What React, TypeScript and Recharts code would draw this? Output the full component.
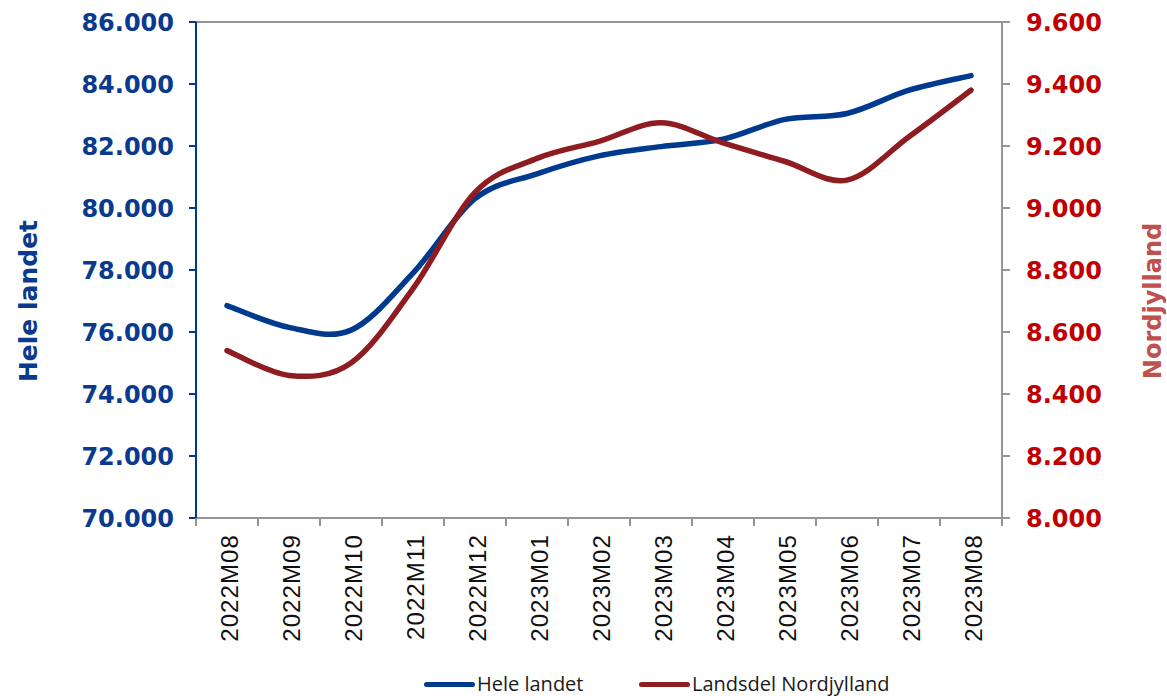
import React from "react";
import {
  LineChart,
  Line,
  XAxis,
  YAxis,
  CartesianGrid,
  Legend,
} from "recharts";

const CATEGORIES = [
  "2022M08",
  "2022M09",
  "2022M10",
  "2022M11",
  "2022M12",
  "2023M01",
  "2023M02",
  "2023M03",
  "2023M04",
  "2023M05",
  "2023M06",
  "2023M07",
  "2023M08",
];

const HELE_LANDET = [
  76850, 76150, 76060, 77900, 80300, 81100, 81680, 81980, 82220, 82860, 83050,
  83800, 84270,
];

const NORDJYLLAND = [
  8540, 8460, 8500, 8740, 9050, 9160, 9215, 9275, 9210, 9150, 9090, 9230, 9380,
];

const LEFT_TICKS = [70000, 72000, 74000, 76000, 78000, 80000, 82000, 84000, 86000];
const RIGHT_TICKS = [8000, 8200, 8400, 8600, 8800, 9000, 9200, 9400, 9600];

const data = CATEGORIES.map((month, i) => ({
  month,
  hele: HELE_LANDET[i],
  nord: NORDJYLLAND[i],
}));

const W = 1167;
const H = 696;
const LEFT_W = 196;
const RIGHT_W = 165;
const HALF_BAND = (W - LEFT_W - RIGHT_W) / CATEGORIES.length / 2;

const BLUE = "#003a8f";
const BLUE_TEXT = "#0a3a8e";
const RED = "#8e1c20";
const RED_TEXT = "#c00000";
const RED_TITLE = "#c0504d";
const GRID = "#959595";

const fmt = (n: number) =>
  String(n).replace(/\B(?=(\d{3})+(?!\d))/g, ".");

// Excel-style smoothing (Catmull-Rom through the points)
function excelCurve(context: any) {
  let pts: number[][] = [];
  return {
    areaStart() {},
    areaEnd() {},
    lineStart() {
      pts = [];
    },
    point(x: number, y: number) {
      pts.push([+x, +y]);
    },
    lineEnd() {
      if (!pts.length) return;
      context.moveTo(pts[0][0], pts[0][1]);
      for (let i = 0; i < pts.length - 1; i++) {
        const p0 = pts[i - 1] || pts[i];
        const p1 = pts[i];
        const p2 = pts[i + 1];
        const p3 = pts[i + 2] || p2;
        context.bezierCurveTo(
          p1[0] + (p2[0] - p0[0]) / 6,
          p1[1] + (p2[1] - p0[1]) / 6,
          p2[0] - (p3[0] - p1[0]) / 6,
          p2[1] - (p3[1] - p1[1]) / 6,
          p2[0],
          p2[1]
        );
      }
    },
  };
}

function MonthTick(props: any) {
  const { x, y, payload, index } = props;
  const last = index === CATEGORIES.length - 1;
  return (
    <g>
      <line x1={x - HALF_BAND} y1={y} x2={x - HALF_BAND} y2={y + 8} stroke={GRID} strokeWidth={2} />
      {last && (
        <line x1={x + HALF_BAND} y1={y} x2={x + HALF_BAND} y2={y + 8} stroke={GRID} strokeWidth={2} />
      )}
      <text
        x={x + 2}
        y={y + 16}
        transform={`rotate(-90, ${x + 2}, ${y + 16})`}
        textAnchor="end"
        dy="0.36em"
        fontFamily="Liberation Sans, Arial, sans-serif"
        fontSize={24}
        letterSpacing={1.1}
        fill="#111"
      >
        {payload.value}
      </text>
    </g>
  );
}

function LegendContent() {
  const item = (left: number, color: string, label: string) => (
    <div
      style={{
        position: "absolute",
        left,
        top: 3,
        height: 30,
        display: "flex",
        alignItems: "center",
      }}
    >
      <div
        style={{
          width: 51,
          height: 5,
          borderRadius: 3,
          background: color,
          marginRight: 2,
        }}
      />
      <span
        style={{
          fontFamily: "Open Sans, sans-serif",
          fontSize: 20,
          color: "#1a1a1a",
          lineHeight: "30px",
        }}
      >
        {label}
      </span>
    </div>
  );
  return (
    <div style={{ position: "relative", width: W, height: 30 }}>
      {item(424, BLUE, "Hele landet")}
      {item(639, RED, "Landsdel Nordjylland")}
    </div>
  );
}

export default function App() {
  return (
    <div
      style={{
        position: "absolute",
        left: 0,
        top: 0,
        width: W,
        height: H,
        background: "#fff",
      }}
    >
      <LineChart
        width={W}
        height={H}
        data={data}
        margin={{ top: 22, right: 0, bottom: 0, left: 0 }}
      >
        <CartesianGrid vertical={false} stroke={GRID} strokeWidth={2} />
        <XAxis
          dataKey="month"
          height={148}
          padding={{ left: HALF_BAND, right: HALF_BAND }}
          interval={0}
          tickLine={false}
          tickSize={0}
          tickMargin={0}
          axisLine={{ stroke: GRID, strokeWidth: 2 }}
          tick={<MonthTick />}
        />
        <YAxis
          yAxisId="left"
          orientation="left"
          width={LEFT_W}
          domain={[70000, 86000]}
          ticks={LEFT_TICKS}
          tickFormatter={fmt}
          tickSize={7}
          tickMargin={15}
          axisLine={{ stroke: BLUE, strokeWidth: 2 }}
          tickLine={{ stroke: BLUE, strokeWidth: 2 }}
          tick={{
            fill: BLUE_TEXT,
            fontSize: 24,
            fontWeight: "bold",
            fontFamily: "DejaVu Sans, Verdana, sans-serif",
          }}
          label={{
            content: ({ viewBox }: any) => {
              const cx = 28;
              const cy = viewBox.y + viewBox.height / 2 + 31;
              return (
                <text
                  x={cx}
                  y={cy}
                  transform={`rotate(-90, ${cx}, ${cy})`}
                  textAnchor="middle"
                  dy="0.36em"
                  fill={BLUE_TEXT}
                  fontSize={25}
                  fontWeight="bold"
                  fontFamily="DejaVu Sans, Verdana, sans-serif"
                >
                  Hele landet
                </text>
              );
            },
          }}
        />
        <YAxis
          yAxisId="right"
          orientation="right"
          width={RIGHT_W}
          domain={[8000, 9600]}
          ticks={RIGHT_TICKS}
          tickFormatter={fmt}
          tickSize={8}
          tickMargin={16}
          axisLine={{ stroke: GRID, strokeWidth: 2 }}
          tickLine={{ stroke: GRID, strokeWidth: 2 }}
          tick={{
            fill: RED_TEXT,
            fontSize: 24,
            fontWeight: "bold",
            fontFamily: "DejaVu Sans, Verdana, sans-serif",
          }}
          label={{
            content: ({ viewBox }: any) => {
              const cx = 1152;
              const cy = viewBox.y + viewBox.height / 2 + 31;
              return (
                <text
                  x={cx}
                  y={cy}
                  transform={`rotate(-90, ${cx}, ${cy})`}
                  textAnchor="middle"
                  dy="0.36em"
                  fill={RED_TITLE}
                  fontSize={24}
                  fontWeight="bold"
                  fontFamily="DejaVu Sans, Verdana, sans-serif"
                >
                  Nordjylland
                </text>
              );
            },
          }}
        />
        <Legend
          verticalAlign="bottom"
          height={30}
          wrapperStyle={{ left: 0, width: W, bottom: 0 }}
          content={<LegendContent />}
        />
        <Line
          yAxisId="left"
          dataKey="hele"
          name="Hele landet"
          type={excelCurve as any}
          stroke={BLUE}
          strokeWidth={5.5}
          strokeLinecap="round"
          dot={false}
          activeDot={false}
          isAnimationActive={false}
        />
        <Line
          yAxisId="right"
          dataKey="nord"
          name="Landsdel Nordjylland"
          type={excelCurve as any}
          stroke={RED}
          strokeWidth={5.5}
          strokeLinecap="round"
          dot={false}
          activeDot={false}
          isAnimationActive={false}
        />
      </LineChart>
    </div>
  );
}
